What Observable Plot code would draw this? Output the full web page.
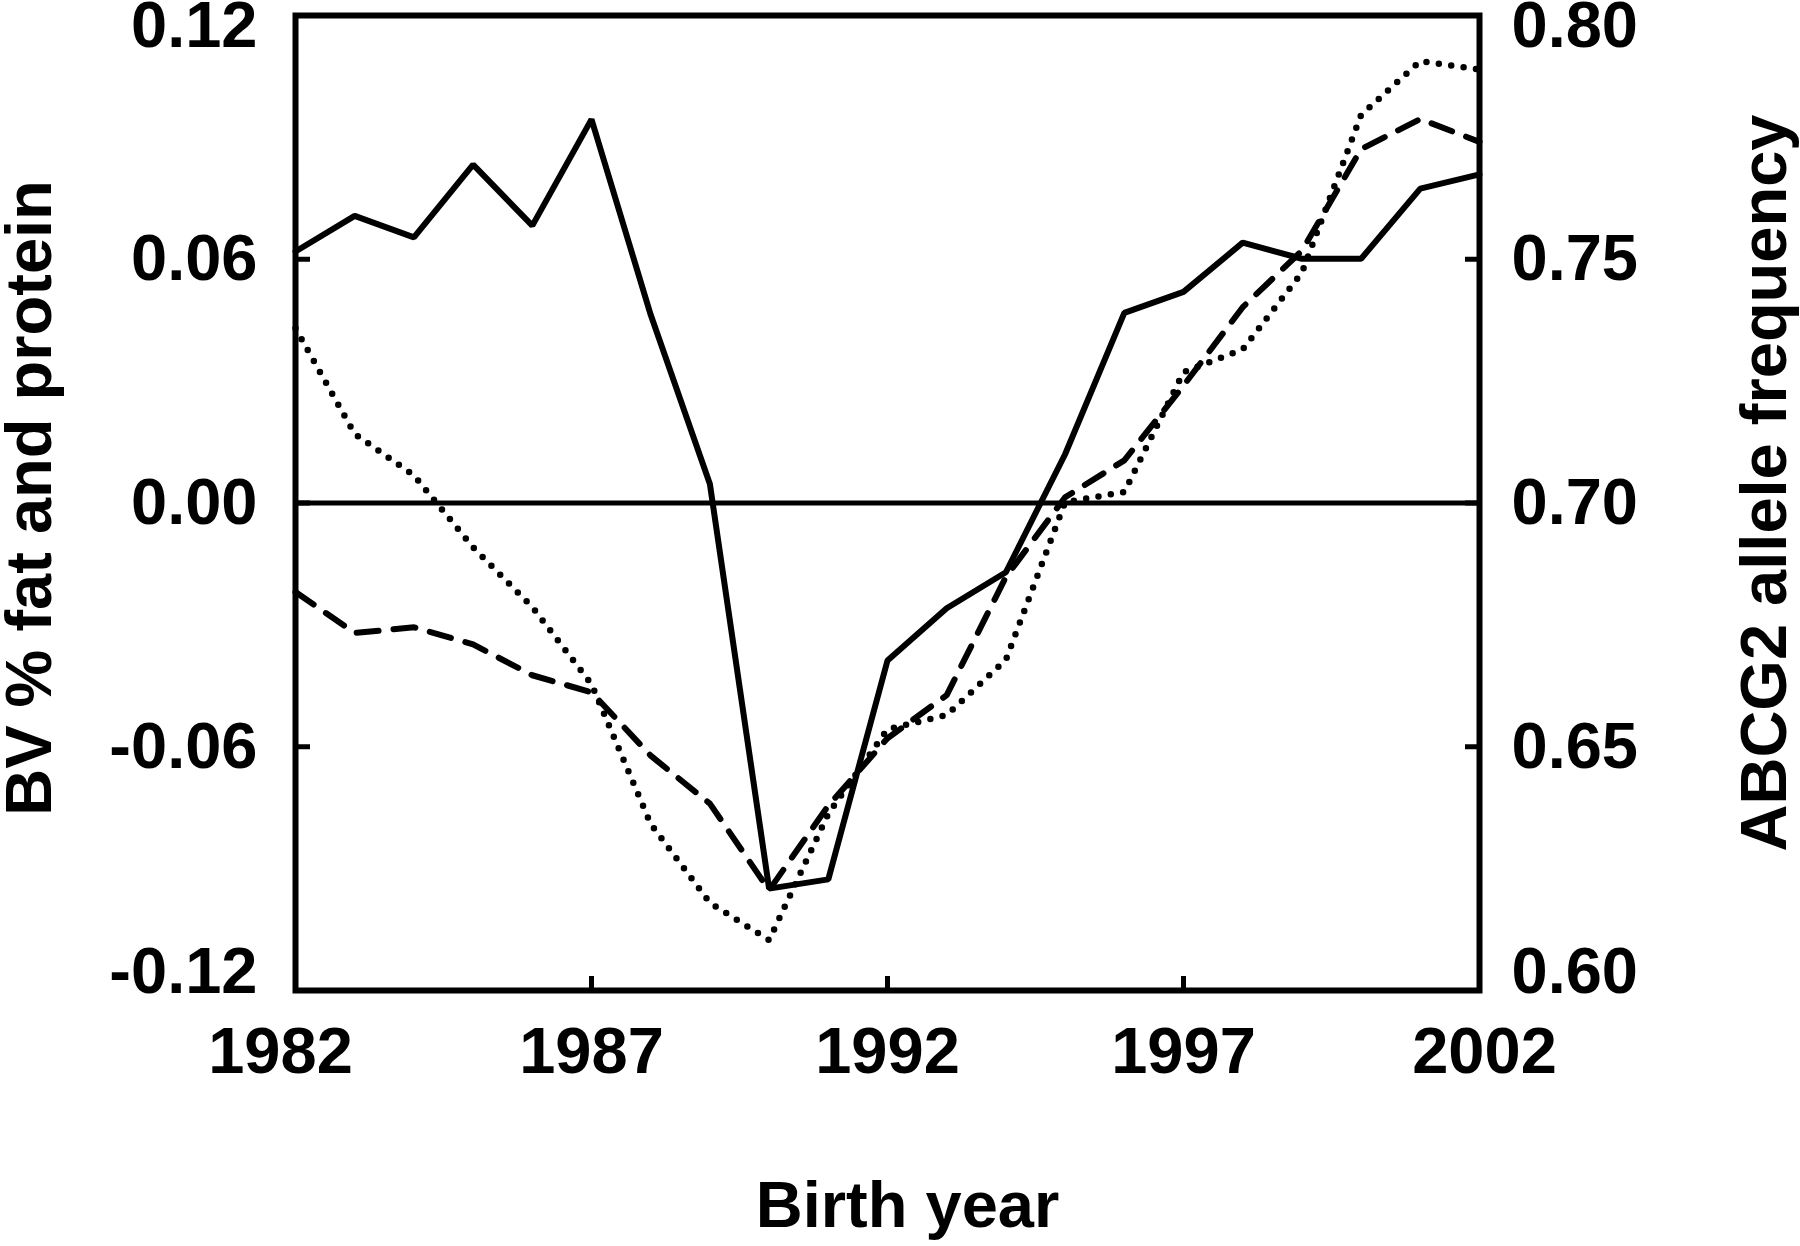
<!DOCTYPE html>
<html>
<head>
<meta charset="utf-8">
<script src="https://cdn.jsdelivr.net/npm/d3@7"></script>
<script src="https://cdn.jsdelivr.net/npm/@observablehq/plot@0.6"></script>
<style>
  html, body { margin: 0; padding: 0; background: #ffffff; }
  svg { display: block; }
</style>
</head>
<body>
<div id="chart"></div>
<script>
// ---- Data ----
const years = [1982, 1983, 1984, 1985, 1986, 1987, 1988, 1989, 1990, 1991, 1992,
               1993, 1994, 1995, 1996, 1997, 1998, 1999, 2000, 2001, 2002];

// Solid line: ABCG2 allele frequency (right axis)
const abcg2Freq = [0.7516, 0.7589, 0.7545, 0.7694, 0.7569, 0.7787, 0.7386, 0.7039, 0.6209, 0.6228, 0.6677,
                   0.6784, 0.6858, 0.7100, 0.7390, 0.7433, 0.7534, 0.7501, 0.7501, 0.7645, 0.7674];

// Dashed line: BV (left axis)
const bvDashed = [-0.0219, -0.0320, -0.0306, -0.0348, -0.0424, -0.0466, -0.0622, -0.0740, -0.0953, -0.0745, -0.0579,
                  -0.0473, -0.0182, 0.0014, 0.0105, 0.0289, 0.0482, 0.0621, 0.0871, 0.0945, 0.0889];

// Dotted line: BV (left axis)
const bvDotted = [0.0430, 0.0170, 0.0068, -0.0109, -0.0256, -0.0446, -0.0790, -0.0984, -0.1076, -0.0765, -0.0557,
                  -0.0522, -0.0386, 0.0002, 0.0027, 0.0322, 0.0378, 0.0567, 0.0955, 0.1088, 0.1067];

const xTicks = [1982, 1987, 1992, 1997, 2002];
const leftTicks = [-0.12, -0.06, 0, 0.06, 0.12];
const rightTicks = [0.60, 0.65, 0.70, 0.75, 0.80];

const leftTitle = "BV % fat and protein";
const rightTitle = "ABCG2 allele frequency";
const xTitle = "Birth year";

// map right-axis units onto the left (BV) scale
const rightDomain = [0.60, 0.80];
const leftDomain = [-0.12, 0.12];
const toLeft = v => leftDomain[0] + (v - rightDomain[0]) * (leftDomain[1] - leftDomain[0]) / (rightDomain[1] - rightDomain[0]);
const toRight = v => rightDomain[0] + (v - leftDomain[0]) * (rightDomain[1] - rightDomain[0]) / (leftDomain[1] - leftDomain[0]);

const rows = years.map((year, i) => ({
  year,
  freq: abcg2Freq[i],
  dashed: bvDashed[i],
  dotted: bvDotted[i]
}));

const FONT = "'Liberation Sans', Arial, Helvetica, sans-serif";

// end labels of each axis are nudged inwards as in the reference
const first = a => a.slice(0, 1);
const last = a => a.slice(-1);
const inner = a => a.slice(1, -1);

// inner ticks: inward tick marks; end ticks: label only (corner is covered by the frame)
const leftAxis = (ticks, extra = {}) => Plot.axisY(ticks, {
  anchor: "left", tickSize: -15, tickPadding: 53, strokeWidth: 5,
  tickFormat: d => d.toFixed(2), label: null, ...extra
});
const leftEnd = (ticks, dy) => leftAxis(ticks, { tickSize: 0, tickPadding: 38, dy });
const rightAxis = (ticks, extra = {}) => Plot.axisY(ticks.map(toLeft), {
  anchor: "right", tickSize: -15, tickPadding: 47, strokeWidth: 5,
  tickFormat: d => toRight(d).toFixed(2), label: null, ...extra
});
const rightEnd = (ticks, dy) => rightAxis(ticks, { tickSize: 0, tickPadding: 32, dy });
const bottomAxis = (ticks, extra = {}) => Plot.axisX(ticks, {
  anchor: "bottom", tickSize: -14, tickPadding: 50, strokeWidth: 5,
  tickFormat: d => String(d), label: null, ...extra
});
const bottomEnd = (ticks, dx) => bottomAxis(ticks, { tickSize: 0, tickPadding: 36, dx });

const chart = Plot.plot({
  width: 1800,
  height: 1246,
  marginLeft: 295,
  marginRight: 321,
  marginTop: 15,
  marginBottom: 256,
  style: { fontFamily: FONT, fontSize: "65px", fontWeight: "bold", color: "#000", background: "#fff" },
  x: { domain: [1982, 2002] },
  y: { domain: leftDomain },
  marks: [
    Plot.ruleY([0], { stroke: "#000", strokeWidth: 5 }),
    Plot.line(rows, { x: "year", y: d => toLeft(d.freq), stroke: "#000", strokeWidth: 6, strokeLinejoin: "miter" }),
    Plot.line(rows, { x: "year", y: "dashed", stroke: "#000", strokeWidth: 6, strokeDasharray: "22 15" }),
    Plot.line(rows, { x: "year", y: "dotted", stroke: "#000", strokeWidth: 6.5, strokeDasharray: "0 12.5", strokeLinecap: "round" }),
    leftAxis(inner(leftTicks)),
    leftEnd(last(leftTicks), 11),
    leftEnd(first(leftTicks), -18),
    rightAxis(inner(rightTicks)),
    rightEnd(last(rightTicks), 11),
    rightEnd(first(rightTicks), -18),
    bottomAxis(inner(xTicks)),
    bottomEnd(first(xTicks), -15),
    bottomEnd(last(xTicks), 5),
    Plot.frame({ stroke: "#000", strokeWidth: 6 }),
    Plot.text([leftTitle], {
      frameAnchor: "left", textAnchor: "middle", lineAnchor: "middle",
      dx: -265, dy: -5, rotate: -90,
      fontSize: 65, fontWeight: "bold", fill: "#000"
    }),
    Plot.text([rightTitle], {
      frameAnchor: "right", textAnchor: "middle", lineAnchor: "middle",
      dx: 286, dy: -20, rotate: -90,
      fontSize: 65, fontWeight: "bold", fill: "#000"
    }),
    Plot.text([xTitle], {
      frameAnchor: "bottom", dx: 20, dy: 236, lineAnchor: "bottom",
      fontSize: 65, fontWeight: "bold", fill: "#000"
    })
  ]
});

document.getElementById("chart").appendChild(chart);
</script>
</body>
</html>
